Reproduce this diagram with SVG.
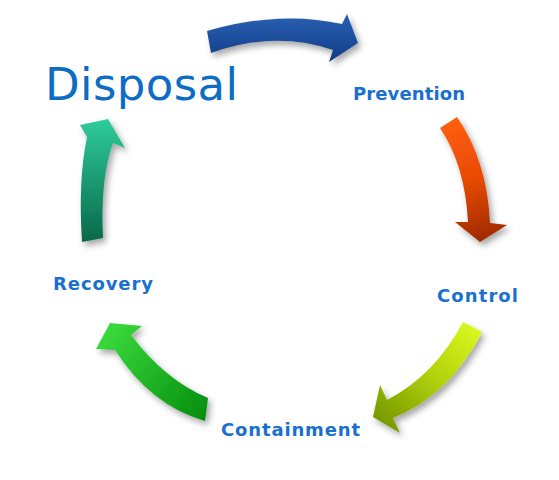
<svg xmlns="http://www.w3.org/2000/svg" width="559" height="480" viewBox="0 0 559 480">
<defs>
<style>
.lbl{font-family:"DejaVu Sans","Liberation Sans",sans-serif;font-weight:bold;fill:#1a6fcf;font-size:18px}
.big{font-family:"DejaVu Sans","Liberation Sans",sans-serif;fill:#0d6cc4;font-size:45px}
.arr{filter:url(#sh)}
</style>
<filter id="sh" x="-30%" y="-30%" width="160%" height="160%">
<feDropShadow dx="3" dy="4" stdDeviation="3" flood-color="#000" flood-opacity="0.35"/>
</filter>
<linearGradient id="gBlue" gradientUnits="userSpaceOnUse" x1="0" y1="12" x2="0" y2="62">
<stop offset="0" stop-color="#2b62b5"/><stop offset="1" stop-color="#123c86"/>
</linearGradient>
<linearGradient id="gOrange" gradientUnits="userSpaceOnUse" x1="450" y1="118" x2="485" y2="242">
<stop offset="0" stop-color="#ff5f0c"/><stop offset="0.5" stop-color="#e84a05"/><stop offset="1" stop-color="#9c2a00"/>
</linearGradient>
<linearGradient id="gYellow" gradientUnits="userSpaceOnUse" x1="472" y1="325" x2="385" y2="425">
<stop offset="0" stop-color="#d8f81e"/><stop offset="0.5" stop-color="#b0d00a"/><stop offset="1" stop-color="#789a00"/>
</linearGradient>
<linearGradient id="gGreen" gradientUnits="userSpaceOnUse" x1="207" y1="410" x2="110" y2="330">
<stop offset="0" stop-color="#069010"/><stop offset="1" stop-color="#3ad83a"/>
</linearGradient>
<linearGradient id="gTeal" gradientUnits="userSpaceOnUse" x1="0" y1="242" x2="0" y2="119">
<stop offset="0" stop-color="#086848"/><stop offset="1" stop-color="#30cc9c"/>
</linearGradient>
</defs>
<rect width="559" height="480" fill="#fff"/>
<g id="connectors">
<path id="arrow-disposal-prevention" class="arr" fill="url(#gBlue)" d="M207,31 Q280,10 342,24 L347,14 L358,43 L329,62 L333,50 Q275,30 211,53 Z"/>
<path id="arrow-prevention-control" class="arr" fill="url(#gOrange)" d="M457,117 Q487,160 490,223 L507,225 L480,242 L455,222 L468,222 Q465,165 440,128 Z"/>
<path id="arrow-control-containment" class="arr" fill="url(#gYellow)" d="M482,332 Q450,395 393,418 L400,433 L373,417 L380,385 L387,400 Q435,375 463,322 Z"/>
<path id="arrow-containment-recovery" class="arr" fill="url(#gGreen)" d="M205,421 Q150,405 115,350 L96,349 L110,323 L142,326 L131,335 Q165,380 208,398 Z"/>
<path id="arrow-recovery-disposal" class="arr" fill="url(#gTeal)" d="M82,242 Q78,180 87,137 L80,125 L108,119 L125,148 L113,143 Q100,180 103,238 Z"/>
</g>
<g id="disposal"><text class="big" x="45" y="100" textLength="193" lengthAdjust="spacing">Disposal</text></g>
<g id="prevention"><text class="lbl" x="353" y="100" textLength="112" lengthAdjust="spacing">Prevention</text></g>
<g id="control"><text class="lbl" x="437" y="302" textLength="81" lengthAdjust="spacing">Control</text></g>
<g id="containment"><text class="lbl" x="221" y="436" textLength="139" lengthAdjust="spacing">Containment</text></g>
<g id="recovery"><text class="lbl" x="53" y="290" textLength="100" lengthAdjust="spacing">Recovery</text></g>
</svg>
